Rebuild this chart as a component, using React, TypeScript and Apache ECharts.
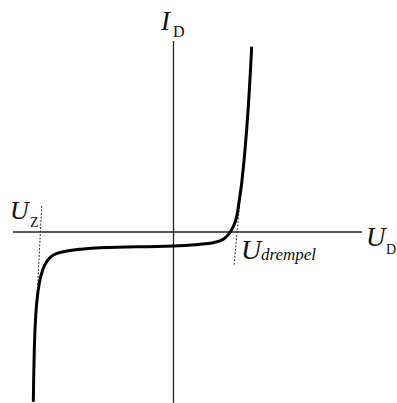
import React, { useEffect, useRef } from "react";
import * as echarts from "echarts";

// Diode characteristic (arbitrary units: U horizontal, I vertical)
const curveU = [-14.02, -13.95, -13.85, -13.68, -13.42, -13.08, -12.68, -12.02, -11.02, -9.35, -7.35, 0, 2.65, 3.98, 4.98, 5.58, 5.98, 6.32, 6.58, 6.82, 7.15, 7.48, 7.82];
const curveI = [-16.97, -13.1, -9.8, -7.1, -5.1, -3.8, -2.97, -2.3, -1.97, -1.73, -1.57, -1.4, -1.23, -1.07, -0.73, -0.13, 0.53, 1.53, 3.2, 4.9, 8.2, 12.53, 18.53];

// tangent (dotted) lines
const zenerTangentU = [-13.18, -13.65];
const zenerTangentI = [2.6, -6.8];
const drempelTangentU = [6.65, 6.05];
const drempelTangentI = [3.2, -3.4];

// axis extents
const hAxisU = [-16.05, 18.85];
const vAxisI = [19.1, -17.1];

const labels = {
  uAxis: ["U", "D"],
  iAxis: ["I", "D"],
  zener: ["U", "Z"],
  drempel: ["U", "drempel"],
};

const zip = (a: number[], b: number[]) => a.map((v, i) => [v, b[i]]);

const SERIF = "'Liberation Serif', 'DejaVu Serif', serif";

export default function App() {
  const ref = useRef<HTMLDivElement>(null);
  useEffect(() => {
    if (!ref.current) return;
    const chart = echarts.init(ref.current, null, { renderer: "svg" });
    const txt = (x: number, y: number, t: string, size: number, italic: boolean) => ({
      type: "text",
      x,
      y,
      silent: true,
      style: {
        text: t,
        font: `${italic ? "italic " : ""}${size}px ${SERIF}`,
        fontFamily: SERIF,
        fontStyle: italic ? "italic" : "normal",
        fontSize: size,
        fill: "#111",
        align: "left",
        verticalAlign: "middle",
      },
    });
    chart.setOption({
      animation: false,
      backgroundColor: "#ffffff",
      grid: { left: 3.5, top: 2, width: 390, height: 400 },
      xAxis: { type: "value", min: -17, max: 22, show: false },
      yAxis: { type: "value", min: -17, max: 23, show: false },
      series: [
        {
          type: "line",
          data: zip(hAxisU, [0, 0]),
          symbol: "none",
          silent: true,
          lineStyle: { color: "#222", width: 1.5 },
        },
        {
          type: "line",
          data: zip([0, 0], vAxisI),
          symbol: "none",
          silent: true,
          lineStyle: { color: "#222", width: 1.3 },
        },
        {
          type: "line",
          data: zip(zenerTangentU, zenerTangentI),
          symbol: "none",
          silent: true,
          lineStyle: { color: "#333", width: 1, type: [2, 1.5] },
        },
        {
          type: "line",
          data: zip(drempelTangentU, drempelTangentI),
          symbol: "none",
          silent: true,
          lineStyle: { color: "#333", width: 1, type: [2, 1.5] },
        },
        {
          type: "line",
          data: zip(curveU, curveI),
          symbol: "none",
          smooth: 0.4,
          silent: true,
          lineStyle: { color: "#000", width: 3 },
        },
      ],
      graphic: [
        txt(366, 237, labels.uAxis[0], 27, true),
        txt(386, 249, labels.uAxis[1], 14, false),
        txt(161, 21, labels.iAxis[0], 27, true),
        txt(173, 31, labels.iAxis[1], 16, false),
        txt(10, 210, labels.zener[0], 26, true),
        txt(30, 222, labels.zener[1], 14, false),
        txt(241, 249, labels.drempel[0], 28, true),
        txt(261, 254, labels.drempel[1], 17, true),
      ],
    });
    return () => chart.dispose();
  }, []);
  return (
    <div
      ref={ref}
      style={{ position: "fixed", left: 0, top: 0, width: 397, height: 403, background: "#fff" }}
    />
  );
}
